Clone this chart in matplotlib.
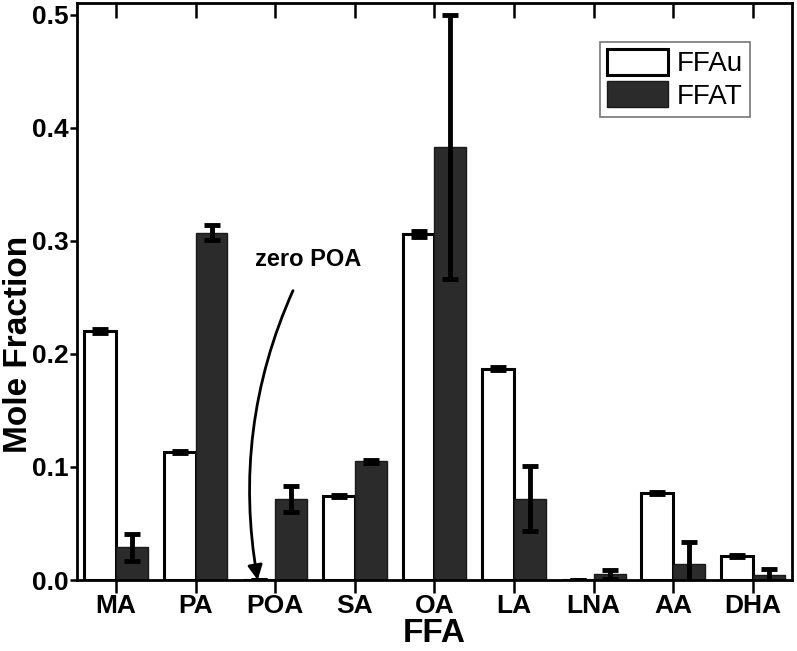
## import libraries ##
import matplotlib
matplotlib.use('Agg')
import matplotlib.pyplot as plt
import numpy as np

plt.rcParams['font.family'] = ['Liberation Sans', 'DejaVu Sans']

## data ##
categories = ['MA', 'PA', 'POA', 'SA', 'OA', 'LA', 'LNA', 'AA', 'DHA']
ffau = [0.220, 0.113, 0.0, 0.074, 0.306, 0.187, 0.0, 0.077, 0.021]
ffau_err = [0.002, 0.001, 0.0, 0.001, 0.003, 0.0015, 0.0, 0.001, 0.001]
ffat = [0.029, 0.307, 0.072, 0.105, 0.383, 0.072, 0.005, 0.014, 0.0045]
ffat_err = [0.012, 0.0065, 0.0115, 0.0015, 0.117, 0.029, 0.004, 0.020, 0.005]

x = np.arange(len(categories))
bar_width = 0.4

## set up bar chart ##
fig = plt.figure(figsize=(7.97, 6.51), dpi=100)
ax = fig.add_axes([0.0966, 0.109, 0.897, 0.886])

err_kw = dict(ecolor='black', elinewidth=3.5, capsize=6, capthick=3.5)
ax.bar(x - bar_width / 2, ffau, bar_width, color='white', edgecolor='black',
       linewidth=2.2, yerr=ffau_err, error_kw=err_kw, label='FFAu', zorder=2)
ax.bar(x + bar_width / 2, ffat, bar_width, color='#2b2b2b', edgecolor='#1a1a1a',
       linewidth=1, yerr=ffat_err, error_kw=err_kw, label='FFAT', zorder=2)

ax.set_xlim(-0.49, 8.49)
ax.set_ylim(0, 0.51)
ax.set_xticks(x)
ax.set_xticklabels(categories, fontsize=19, fontweight='bold')
ax.set_yticks([0.0, 0.1, 0.2, 0.3, 0.4, 0.5])
ax.set_yticklabels(['0.0', '0.1', '0.2', '0.3', '0.4', '0.5'], fontsize=19, fontweight='bold')
ax.tick_params(axis='x', direction='out', length=9, width=1.8, pad=1, top=False)
ax.tick_params(axis='y', direction='out', length=5, width=1.8, pad=1)
for spine in ax.spines.values():
    spine.set_linewidth(2)

# inward top ticks
ax_top = ax.secondary_xaxis('top')
ax_top.set_xticks(x)
ax_top.set_xticklabels([])
ax_top.tick_params(direction='in', length=11, width=1.8)

ax.set_xlabel('FFA', fontsize=24, fontweight='bold', labelpad=0)
fig.text(18.5 / 797, 1 - 344 / 651, 'Mole Fraction', fontsize=24, fontweight='bold',
         rotation=90, ha='center', va='center')

ax.annotate('zero POA', xy=(1.78, 0.0), xytext=(2.41, 0.283),
            fontsize=17, fontweight='bold', ha='center', va='center',
            arrowprops=dict(arrowstyle='-|>', color='black', lw=2,
                            mutation_scale=22, shrinkA=13, shrinkB=0,
                            connectionstyle='arc3,rad=0.17'))

leg = ax.legend(loc='upper right', bbox_to_anchor=(0.941, 0.933), fontsize=20,
                frameon=True, fancybox=False, edgecolor='#555555',
                handlelength=2.2, handleheight=1.05, handletextpad=0.3,
                labelspacing=0.15, borderpad=0.25, borderaxespad=0)
leg.get_frame().set_linewidth(1.2)

## save bar chart ##
plt.savefig('out.png', dpi=100)
